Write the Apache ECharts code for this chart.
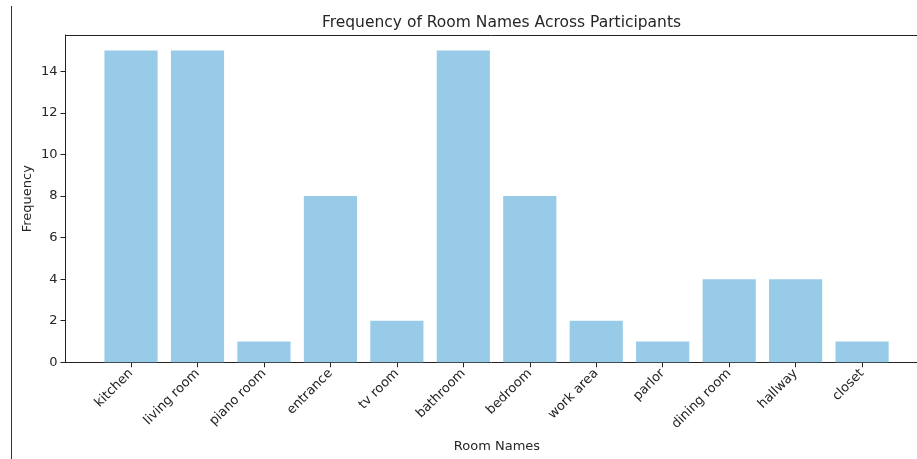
<!DOCTYPE html>
<html>
<head>
<meta charset="utf-8">
<script src="https://cdn.jsdelivr.net/npm/echarts@6/dist/echarts.min.js"></script>
<style>
html,body{margin:0;padding:0;background:#fff;}
#chart{width:917px;height:459px;}
</style>
</head>
<body>
<div id="chart"></div>
<script>
const categories = ['kitchen','living room','piano room','entrance','tv room','bathroom','bedroom','work area','parlor','dining room','hallway','closet'];
const frequencies = [15,15,1,8,2,15,8,2,1,4,4,1];
const yTicks = [0,2,4,6,8,10,12,14];

const FONT = 'DejaVu Sans';
const TXT = '#262626';
const gridTop = 35, gridHeight = 327.3;

const chart = echarts.init(document.getElementById('chart'));
chart.setOption({
  animation: false,
  backgroundColor: '#fff',
  title: {
    text: 'Frequency of Room Names Across Participants',
    left: 496.5, textAlign: 'center', top: 10,
    textStyle: {fontFamily: FONT, fontSize: 15.5, fontWeight: 'normal', color: TXT}
  },
  graphic: [{
    type: 'line', shape: {x1: 11.5, y1: 6, x2: 11.5, y2: 459},
    style: {stroke: '#333', lineWidth: 1}
  }],
  grid: [
    {left: 97.8, width: 797.5, top: gridTop, height: gridHeight, containLabel: false, outerBoundsMode: 'none'},
    {left: 65.5, width: 863, top: gridTop, height: gridHeight, containLabel: false, outerBoundsMode: 'none'}
  ],
  xAxis: [
    {
      gridIndex: 0, type: 'category', data: categories,
      axisLine: {show: false},
      axisTick: {show: true, alignWithLabel: true, length: 5, lineStyle: {color: '#222'}},
      axisLabel: {rotate: 45, fontFamily: FONT, fontSize: 13, color: TXT, margin: 9, interval: 0},
      splitLine: {show: false}
    },
    {
      gridIndex: 1, type: 'value', min: 0, max: 1, position: 'bottom',
      axisLine: {show: true, lineStyle: {color: '#222', width: 1}},
      axisTick: {show: false}, axisLabel: {show: false}, splitLine: {show: false},
      name: 'Room Names', nameLocation: 'middle', nameGap: 78, nameMoveOverlap: false,
      nameTextStyle: {fontFamily: FONT, fontSize: 13, color: TXT}
    },
    {
      gridIndex: 1, type: 'value', min: 0, max: 1, position: 'top',
      axisLine: {show: true, lineStyle: {color: '#222', width: 1}},
      axisTick: {show: false}, axisLabel: {show: false}, splitLine: {show: false}
    }
  ],
  yAxis: [
    {gridIndex: 0, type: 'value', min: 0, max: 15.75, show: false, splitLine: {show: false}},
    {
      gridIndex: 1, type: 'value', min: 0, max: 15.75,
      axisLine: {show: true, lineStyle: {color: '#222', width: 1}},
      axisTick: {show: true, length: 5, customValues: yTicks, lineStyle: {color: '#222'}},
      axisLabel: {customValues: yTicks, fontFamily: FONT, fontSize: 13, color: TXT, margin: 8},
      splitLine: {show: false},
      name: 'Frequency', nameLocation: 'middle', nameGap: 31, nameRotate: 90, nameMoveOverlap: false,
      nameTextStyle: {fontFamily: FONT, fontSize: 13, color: TXT}
    }
  ],
  series: [{
    type: 'bar', xAxisIndex: 0, yAxisIndex: 0,
    data: frequencies, barWidth: '80%',
    itemStyle: {color: '#97CBE8'}
  }]
});
</script>
</body>
</html>
